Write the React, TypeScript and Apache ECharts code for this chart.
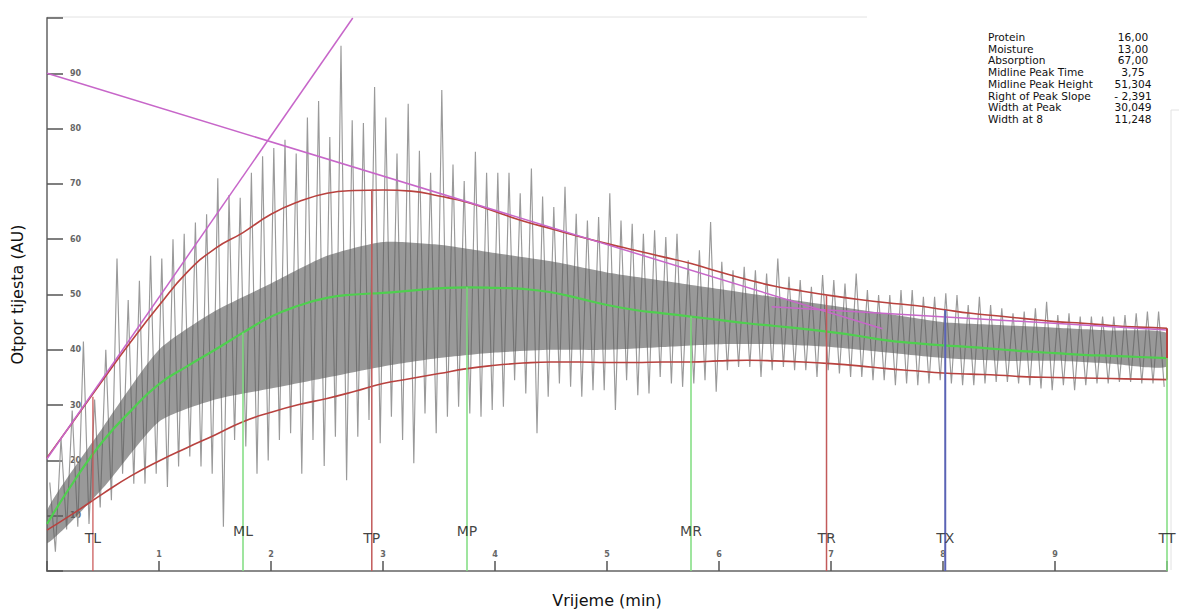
import React, { useEffect, useRef } from 'react';
import * as echarts from 'echarts';

// ---- Data (time in minutes, resistance in AU) ----
// Raw trace: per 0.1-min bin, the highest spike tip and the lowest spike tip
const spikeHi = [
  16, 24, 29, 41.5, 31, 40, 56.5, 49, 52.5, 57,
  56.5, 60, 61, 63, 64.5, 71, 68, 67.5, 72, 75,
  76.5, 78, 75.5, 82, 85, 78.5, 95, 81.5, 81, 87.5,
  82, 75.5, 84.5, 76, 72, 87, 73.5, 70.5, 75.8, 72,
  72, 72, 68.3, 72.8, 67.7, 65.8, 69.5, 64.6, 63.4, 64,
  68.3, 63.4, 62.8, 61, 61.6, 60.4, 61, 56.2, 58, 63.1,
  55.9, 54.4, 55, 54.4, 53.8, 56.5, 53.2, 52.6, 51.4, 53.5,
  52.6, 52, 53.8, 50.8, 49.9, 49.9, 50.8, 50.8, 49.6, 49.6,
  50.2, 49.9, 48.1, 49.6, 48.1, 47.5, 46.6, 46.9, 47.5, 48.7,
  46.3, 46.6, 46, 46, 46, 46, 46.3, 46.6, 46.9, 46.9,
];
const spikeLo = [
  3.5, 7.5, 8, 8.5, 11.5, 12.8, 17.6, 15.8, 15.8, 17.6,
  15.2, 18.9, 20.7, 18.9, 17.6, 8, 23.7, 22.5, 17.6, 20,
  23.7, 24.9, 17.6, 23.7, 19, 24.3, 16.4, 24.3, 27.3, 23.1,
  27.9, 23.7, 19.5, 28.5, 24.9, 27.9, 29.7, 28.5, 27.9, 29.1,
  29.7, 34.5, 32.1, 24.9, 31.5, 33.9, 33.3, 31.5, 32.7, 32.7,
  29.1, 34.5, 31.8, 32.1, 35.1, 33.9, 33.3, 33.9, 34.5, 32.4,
  36.3, 36.9, 36.9, 35.1, 36.3, 36.9, 36.3, 36.3, 35.1, 36.3,
  35.7, 35.1, 35.1, 34.5, 34.5, 33.6, 33.9, 33.6, 33.9, 34.5,
  33.9, 33.6, 33.6, 33.9, 34.2, 34.2, 33.9, 33.6, 33, 32.7,
  33.6, 32.7, 33.6, 33.9, 33.9, 34.2, 34.2, 33.9, 33.9, 33.3,
];
// Dense dark core of the trace, every 0.5 min
const coreTimes = [0, 0.5, 1, 1.5, 2, 2.5, 3, 3.5, 4, 4.5, 5, 5.5, 6, 6.5, 7, 7.5, 8, 8.5, 9, 9.5, 10];
const coreHi = [11, 26, 40, 47, 52, 57, 59.5, 59, 57.5, 56, 54, 52.5, 51, 49.5, 48, 46.5, 45, 44.5, 44, 43.5, 43];
const coreLo = [5, 15, 27, 31, 33, 35, 37, 38.5, 39.5, 40, 40, 40.5, 41, 41, 40.5, 39.5, 38.5, 38, 38, 37.5, 37];

// Fitted curves, every 0.25 min
const curveTimes = [
  0, 0.25, 0.5, 0.75, 1, 1.25, 1.5, 1.75, 2, 2.25, 2.5, 2.75, 3, 3.25, 3.5, 3.75, 4, 4.25, 4.5, 4.75,
  5, 5.25, 5.5, 5.75, 6, 6.25, 6.5, 6.75, 7, 7.25, 7.5, 7.75, 8, 8.25, 8.5, 8.75, 9, 9.25, 9.5, 9.75, 10,
];
const midline = [
  8.5, 16.5, 23.5, 29, 33.8, 37, 40, 43.1, 46, 48, 49.4, 50, 50.3, 50.7, 51.1, 51.3, 51.2, 51, 50.4, 49.3,
  48.1, 47.2, 46.6, 46, 45.4, 44.8, 44.3, 43.8, 43.2, 42.5, 41.7, 41.2, 40.8, 40.5, 40.1, 39.7, 39.4, 39.1, 38.9, 38.7, 38.5,
];
const upperEnvelope = [
  20.5, 27.5, 34.6, 41.5, 48, 54, 58.3, 61.2, 64.5, 66.8, 68.3, 68.8, 68.9, 68.7, 67.8, 66.7, 65, 63.3, 61.9, 60.5,
  59.2, 58, 56.8, 55.6, 54.1, 52.7, 51.5, 50.6, 49.8, 49.1, 48.5, 48, 47.3, 46.6, 46.1, 45.6, 45.1, 44.8, 44.4, 44.1, 43.9,
];
const lowerEnvelope = [
  7.4, 10.6, 14, 17.2, 19.9, 22.3, 24.6, 27, 28.7, 30.1, 31.2, 32.5, 33.9, 34.8, 35.7, 36.6, 37.2, 37.6, 37.8, 37.8,
  37.7, 37.7, 37.8, 37.8, 38, 38.1, 38, 37.8, 37.5, 37.1, 36.6, 36.2, 35.8, 35.6, 35.4, 35.1, 35, 34.9, 34.8, 34.7, 34.6,
];
// Tangent lines [t, value]
const riseTangent = [[0, 20.3], [2.73, 100]];
const fallTangent = [[0, 90], [7.46, 43.8]];
const tailTangent = [[6.47, 47.8], [10, 43.6]];

// Time markers
const markerNames = ['TL', 'ML', 'TP', 'MP', 'MR', 'TR', 'TX', 'TT'];
const markerTimes = [0.41, 1.75, 2.9, 3.75, 5.75, 6.96, 8.02, 10];
const markerTops = [31.5, 43.1, 69, 51.3, 46, 49.9, 47.2, 38.5];
const ttEnvelope = [34.6, 43.9];

// Result table
const infoLabels = ['Protein', 'Moisture', 'Absorption', 'Midline Peak Time', 'Midline Peak Height', 'Right of Peak Slope', 'Width at Peak', 'Width at 8'];
const infoValues = ['16,00', '13,00', '67,00', '3,75', '51,304', '- 2,391', '30,049', '11,248'];

// ---- styles ----
const FONT = 'DejaVu Sans, Verdana, sans-serif';
const RED = '#b8423f';
const PINK = '#c766c9';
const GREEN = '#4fcf4f';
const markerStyle: Record<string, { color: string; width: number; labelDy: number }> = {
  TL: { color: '#c8504f', width: 1.2, labelDy: -33 },
  ML: { color: '#7fdc7f', width: 1.5, labelDy: -40 },
  TP: { color: '#c25a5a', width: 1.5, labelDy: -33 },
  MP: { color: '#7fdc7f', width: 1.5, labelDy: -40 },
  MR: { color: '#7fdc7f', width: 1.5, labelDy: -40 },
  TR: { color: '#c25a5a', width: 1.5, labelDy: -33 },
  TX: { color: '#5a63b5', width: 2, labelDy: -33 },
  TT: { color: '#7fdc7f', width: 1.5, labelDy: -33 },
};

export default function App() {
  const ref = useRef<HTMLDivElement>(null);

  useEffect(() => {
    if (!ref.current) return;
    const chart = echarts.init(ref.current, undefined, { renderer: 'svg' });

    const trace: number[][] = [];
    spikeHi.forEach((h, i) => {
      trace.push([i * 0.1 + 0.025, h]);
      trace.push([i * 0.1 + 0.075, spikeLo[i]]);
    });
    const pair = (vals: number[]) => curveTimes.map((t, i) => [t, vals[i]]);

    const series: any[] = [];
    // raw oscillating trace
    series.push({
      type: 'line', data: trace, showSymbol: false, silent: true, z: 1,
      lineStyle: { color: '#9a9a9a', width: 1.15 },
    });
    // dark core of the trace (semi-transparent over the trace)
    series.push({
      type: 'custom',
      silent: true,
      z: 2,
      clip: true,
      data: [[0, 0]],
      renderItem: (params: any, api: any) => {
        const pts: number[][] = [];
        coreTimes.forEach((t, i) => pts.push(api.coord([t, coreHi[i]])));
        for (let i = coreTimes.length - 1; i >= 0; i--) pts.push(api.coord([coreTimes[i], coreLo[i]]));
        return { type: 'polygon', shape: { points: pts, smooth: 0.2 }, style: { fill: '#5a5a5a', opacity: 0.62 } };
      },
    });
    // envelopes and midline
    series.push({ type: 'line', data: pair(upperEnvelope), smooth: true, showSymbol: false, z: 4, lineStyle: { color: RED, width: 1.6 } });
    series.push({ type: 'line', data: pair(lowerEnvelope), smooth: true, showSymbol: false, z: 4, lineStyle: { color: RED, width: 1.6 } });
    series.push({ type: 'line', data: pair(midline), smooth: true, showSymbol: false, z: 5, lineStyle: { color: GREEN, width: 2.2 } });
    // tangents
    [riseTangent, fallTangent, tailTangent].forEach((d) =>
      series.push({ type: 'line', data: d, showSymbol: false, z: 6, lineStyle: { color: PINK, width: 1.5 } })
    );
    // TT envelope connector
    series.push({
      type: 'line', data: [[10, ttEnvelope[0]], [10, ttEnvelope[1]]], showSymbol: false, z: 6,
      lineStyle: { color: RED, width: 2 },
    });
    // marker verticals
    markerNames.forEach((n, i) => {
      series.push({
        type: 'line', data: [[markerTimes[i], 0], [markerTimes[i], markerTops[i]]], showSymbol: false, z: 7,
        lineStyle: { color: markerStyle[n].color, width: markerStyle[n].width },
      });
    });
    // marker labels
    series.push({
      type: 'scatter', symbolSize: 0, z: 8, silent: true,
      data: markerNames.map((n, i) => ({
        value: [markerTimes[i], 0],
        label: {
          show: true, position: 'inside', formatter: n, offset: [0, markerStyle[n].labelDy],
          color: '#111', fontSize: 14, fontFamily: FONT,
        },
      })),
    });

    const graphic: any[] = [
      { type: 'line', shape: { x1: 47, y1: 17, x2: 867, y2: 17 }, style: { stroke: '#e2e2e2', lineWidth: 1 } },
      { type: 'line', shape: { x1: 1171, y1: 110, x2: 1171, y2: 570 }, style: { stroke: '#e2e2e2', lineWidth: 1 } },
      { type: 'line', shape: { x1: 1171, y1: 110, x2: 1179, y2: 110 }, style: { stroke: '#e2e2e2', lineWidth: 1 } },
    ];
    infoLabels.forEach((l, i) => {
      const y = 37 + i * 11.7;
      graphic.push({ type: 'text', x: 988, y, style: { text: l, fill: '#111', font: `10.6px ${FONT}`, textVerticalAlign: 'middle' } });
      graphic.push({ type: 'text', x: 1133, y, style: { text: infoValues[i], fill: '#111', font: `10.6px ${FONT}`, textAlign: 'center', textVerticalAlign: 'middle' } });
    });

    chart.setOption({
      animation: false,
      backgroundColor: '#ffffff',
      grid: { left: 47, right: 12, top: 18, bottom: 39, containLabel: false, outerBoundsMode: 'none' },
      xAxis: {
        type: 'value', min: 0, max: 10, interval: 1,
        name: 'Vrijeme (min)', nameLocation: 'middle', nameGap: 21,
        nameTextStyle: { fontSize: 16, color: '#111', fontFamily: FONT },
        axisLine: { show: true, lineStyle: { color: '#8a8a8a', width: 2 } },
        axisTick: { show: true, inside: true, length: 10, lineStyle: { color: '#555', width: 1.5 } },
        axisLabel: {
          inside: true, margin: 13, fontSize: 8, color: '#666', fontWeight: 'bold', fontFamily: FONT,
          formatter: (v: number) => (v > 0 && v < 10 ? String(v) : ''),
        },
        splitLine: { show: false },
      },
      yAxis: {
        type: 'value', min: 0, max: 100, interval: 10,
        name: 'Otpor tijesta (AU)', nameLocation: 'middle', nameGap: 22, nameRotate: 90,
        nameTextStyle: { fontSize: 16, color: '#111', fontFamily: FONT },
        axisLine: { show: true, lineStyle: { color: '#8a8a8a', width: 2 } },
        axisTick: { show: true, inside: true, length: 16, lineStyle: { color: '#555', width: 1.5 } },
        axisLabel: {
          inside: true, margin: 23, fontSize: 8, color: '#666', fontWeight: 'bold', fontFamily: FONT,
          formatter: (v: number) => (v > 0 && v < 100 ? String(v) : ''),
        },
        splitLine: { show: false },
      },
      series,
      graphic,
    });

    return () => chart.dispose();
  }, []);

  return <div ref={ref} style={{ position: 'absolute', left: 0, top: 0, width: 1179, height: 610 }} />;
}
